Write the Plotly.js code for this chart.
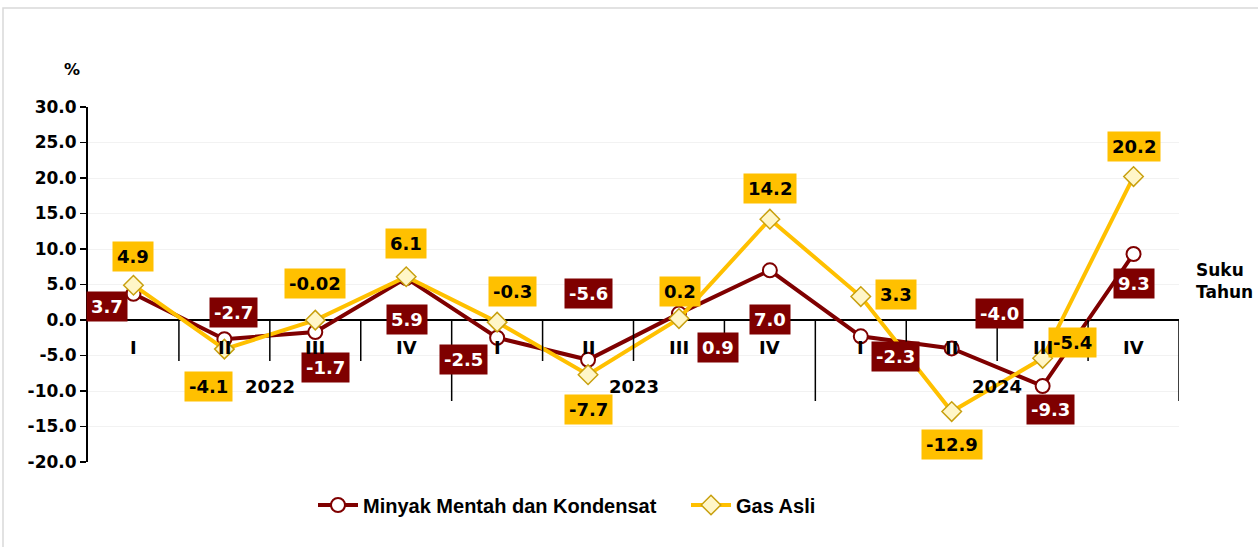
<!DOCTYPE html>
<html>
<head>
<meta charset="utf-8">
<script src="https://cdn.plot.ly/plotly-3.0.1.min.js"></script>
<style>
  html, body { margin: 0; padding: 0; background: #fff; }
  #chart { width: 1258px; height: 547px; }
</style>
</head>
<body>
<div id="chart"></div>
<script>
// ---------- data ----------
const quarters = ['I', 'II', 'III', 'IV', 'I', 'II', 'III', 'IV', 'I', 'II', 'III', 'IV'];
const years = ['2022', '2023', '2024'];
const minyak = [3.7, -2.7, -1.7, 5.9, -2.5, -5.6, 0.9, 7.0, -2.3, -4.0, -9.3, 9.3];
const gas = [4.9, -4.1, -0.02, 6.1, -0.3, -7.7, 0.2, 14.2, 3.3, -12.9, -5.4, 20.2];
const yTicks = [-20, -15, -10, -5, 0, 5, 10, 15, 20, 25, 30];
const seriesNames = ['Minyak Mentah dan Kondensat', 'Gas Asli'];

// ---------- label placement (pixel offsets from each point) ----------
const minyakOffsets = [[-26,-13],[9,27],[10,-35],[1,-41],[-34,-22],[0,66],[39,-34],[0,-49],[35,-20],[48,35],[8,-23],[0,-30]];
const gasOffsets = [[0,29],[-16,-37],[0,37],[0,33],[15,31],[0,-35],[1,27],[0,31],[35,2],[0,-33],[30,16],[0,30]];

const RED = '#7F0000';
const GOLD = '#FFC000';
const LABEL_FONT = 'DejaVu Sans, Arial, sans-serif';
const ARIAL = 'Liberation Sans, Arial, sans-serif';

const xs = quarters.map((_, i) => i);
const fmt = v => (Math.abs(v) < 0.1 ? v.toFixed(2) : v.toFixed(1));

const traces = [
  {
    x: xs, y: minyak, name: seriesNames[0], type: 'scatter', mode: 'lines+markers',
    line: { color: RED, width: 4 },
    marker: { symbol: 'circle', size: 14, color: '#ffffff', line: { color: RED, width: 2 } },
    hoverinfo: 'y'
  },
  {
    x: xs, y: gas, name: seriesNames[1], type: 'scatter', mode: 'lines+markers',
    line: { color: GOLD, width: 4 },
    marker: { symbol: 'diamond', size: 15, color: '#FFF6C8', line: { color: '#C8A010', width: 1.5 } },
    hoverinfo: 'y'
  }
];

// plot area geometry (pixels)
const L = 88, R = 79, T = 107, B = 85, W = 1258, H = 547;
const PW = W - L - R, PH = H - T - B;
const px2x = p => (p - L) / PW;
const py2y = p => (H - B - p) / PH;

const annotations = [];
minyak.forEach((v, i) => annotations.push({
  x: i, y: v, xref: 'x', yref: 'y', text: '<b>' + fmt(v) + '</b>', showarrow: false,
  xshift: minyakOffsets[i][0], yshift: minyakOffsets[i][1],
  bgcolor: RED, borderpad: 4,
  font: { family: LABEL_FONT, size: 18, color: '#ffffff' }
}));
gas.forEach((v, i) => annotations.push({
  x: i, y: v, xref: 'x', yref: 'y', text: '<b>' + fmt(v) + '</b>', showarrow: false,
  xshift: gasOffsets[i][0], yshift: gasOffsets[i][1],
  bgcolor: GOLD, borderpad: 4,
  font: { family: LABEL_FONT, size: 18, color: '#000000' }
}));
quarters.forEach((q, i) => annotations.push({
  x: i, y: 0, xref: 'x', yref: 'y', text: '<b>' + q + '</b>', showarrow: false,
  yshift: -27, font: { family: LABEL_FONT, size: 18, color: '#000' }
}));
years.forEach((yr, k) => annotations.push({
  x: 4 * k + 1.5, y: 0, xref: 'x', yref: 'y', text: '<b>' + yr + '</b>', showarrow: false,
  yshift: -66, font: { family: LABEL_FONT, size: 18, color: '#000' }
}));
annotations.push({
  xref: 'paper', yref: 'paper', x: px2x(72), y: py2y(70), xanchor: 'center', yanchor: 'middle',
  text: '<b>%</b>', showarrow: false,
  font: { family: LABEL_FONT, size: 16, color: '#000' }
});
annotations.push({
  xref: 'paper', yref: 'paper', x: px2x(1194), y: py2y(281), xanchor: 'left', yanchor: 'middle',
  text: '<b>Suku<br>Tahun</b>', showarrow: false, align: 'left',
  font: { family: LABEL_FONT, size: 17, color: '#000' }
});

const shapes = [];
for (let i = 0; i < quarters.length; i++) {
  const long = (i % 4 === 3);
  shapes.push({
    type: 'line', xref: 'x', yref: 'y', ysizemode: 'pixel', yanchor: 0,
    x0: i + 0.5, x1: i + 0.5, y0: 0, y1: long ? -81 : -41,
    line: { color: '#000', width: 1.5 }
  });
}
shapes.push({
  type: 'rect', xref: 'paper', yref: 'paper', layer: 'below',
  x0: px2x(3), x1: px2x(1265), y0: py2y(552), y1: py2y(8),
  line: { color: '#d9d9d9', width: 1.5 }
});

const layout = {
  width: W, height: H,
  margin: { l: L, r: R, t: T, b: B, pad: 0 },
  paper_bgcolor: '#ffffff', plot_bgcolor: '#ffffff',
  showlegend: true,
  legend: {
    orientation: 'h', x: px2x(313), xanchor: 'left', y: py2y(505), yanchor: 'middle',
    font: { family: ARIAL, size: 20, color: '#000', weight: 'bold' },
    itemwidth: 40, entrywidth: 318, traceorder: 'normal'
  },
  xaxis: {
    range: [-0.5, 11.5], showticklabels: false, showgrid: false, zeroline: false,
    showline: false, ticks: '', fixedrange: true
  },
  yaxis: {
    range: [-20, 30], tickmode: 'array', tickvals: yTicks,
    ticktext: yTicks.map(v => v.toFixed(1)),
    ticks: 'outside', ticklen: 6, tickwidth: 1.5, tickcolor: '#000',
    showline: true, linecolor: '#000', linewidth: 2,
    zeroline: true, zerolinecolor: '#000', zerolinewidth: 2,
    showgrid: true, gridcolor: '#f2f2f2', gridwidth: 1,
    tickfont: { family: LABEL_FONT, size: 17, color: '#000', weight: 'bold' },
    fixedrange: true
  },
  annotations: annotations,
  shapes: shapes,
  hovermode: false
};

Plotly.newPlot('chart', traces, layout, { displayModeBar: false, staticPlot: true });
</script>
</body>
</html>
